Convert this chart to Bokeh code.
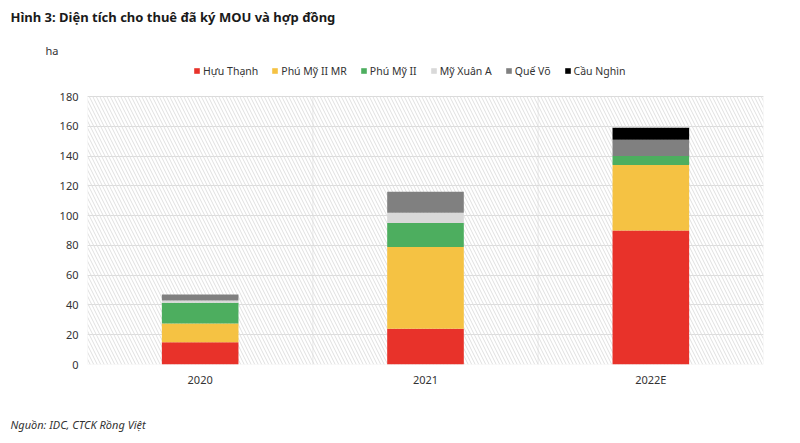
from bokeh.plotting import figure
from bokeh.models import (ColumnDataSource, Legend, LegendItem, BoxAnnotation, FixedTicker,
                          Range1d, Title)
from bokeh.embed import file_html
from bokeh.resources import INLINE

years = ["2020", "2021", "2022E"]
series = ["Hựu Thạnh", "Phú Mỹ II MR", "Phú Mỹ II", "Mỹ Xuân A", "Quế Võ", "Cầu Nghìn"]
huu_thanh = [15, 24, 90]
phu_my_ii_mr = [12.5, 55, 44]
phu_my_ii = [14, 16, 6]
my_xuan_a = [1.5, 7, 0]
que_vo = [4, 14, 11]
cau_nghin = [0, 0, 8]
colors = ["#E8322A", "#F5C243", "#4DAE5F", "#D9D9D9", "#808080", "#000000"]
y_ticks = [0, 20, 40, 60, 80, 100, 120, 140, 160, 180]
y_max = 180

FONT = "Noto Sans"
W, H = 800, 443
# page layout (pixels)
PLOT_LEFT, PLOT_RIGHT = 87, 763
PLOT_TOP, PLOT_BOTTOM = 96, 364      # where 180 and 0 sit
FRAME_TOP = 62                       # frame extended up to hold the legend

data = {"x": list(range(len(years)))}
keys = ["s0", "s1", "s2", "s3", "s4", "s5"]
for k, vals in zip(keys, [huu_thanh, phu_my_ii_mr, phu_my_ii, my_xuan_a, que_vo, cau_nghin]):
    data[k] = vals
source = ColumnDataSource(data)

y_end = y_max * (PLOT_BOTTOM - FRAME_TOP) / (PLOT_BOTTOM - PLOT_TOP)

p = figure(width=W, height=H, output_backend="svg", toolbar_location=None, title=None,
           x_range=Range1d(-0.5, len(years) - 0.5), y_range=Range1d(0, y_end),
           min_border_left=PLOT_LEFT, min_border_right=W - PLOT_RIGHT,
           min_border_top=FRAME_TOP, min_border_bottom=H - PLOT_BOTTOM)
p.background_fill_color = "white"
p.border_fill_color = "white"
p.outline_line_color = None

# hatched plot background limited to the value area
p.add_layout(BoxAnnotation(top=y_max, bottom=0, fill_alpha=0, hatch_pattern="\\",
                           hatch_color="#e0e0e0", hatch_scale=7, hatch_weight=1,
                           line_alpha=0, level="underlay"))
# category cells (give the vertical separators and the outline)
for i in data["x"]:
    p.add_layout(BoxAnnotation(left=i - 0.5, right=i + 0.5, top=y_max, bottom=0,
                               fill_alpha=0, line_color="#dcdcdc", line_width=1,
                               level="underlay"))

renderers = p.vbar_stack(keys, x="x", width=0.34, color=colors, source=source, line_width=0)

p.xaxis.ticker = FixedTicker(ticks=data["x"])
p.xaxis.major_label_overrides = {i: y for i, y in enumerate(years)}
p.yaxis.ticker = FixedTicker(ticks=y_ticks)
for ax in (p.xaxis[0], p.yaxis[0]):
    ax.axis_line_color = None
    ax.major_tick_line_color = None
    ax.minor_tick_line_color = None
    ax.major_tick_out = 0
    ax.major_tick_in = 0
    ax.minor_tick_out = 0
    ax.major_label_text_font = FONT
    ax.major_label_text_font_size = "11px"
    ax.major_label_text_color = "#333333"
p.xaxis.major_label_standoff = 7
p.yaxis.major_label_standoff = 9
# blank axis label used as spacer before the source note
p.xaxis.axis_label = " "
p.xaxis.axis_label_standoff = 7
p.xaxis.axis_label_text_font = FONT
p.xaxis.axis_label_text_font_size = "11px"

p.ygrid.grid_line_color = "#dcdcdc"
p.ygrid.ticker = FixedTicker(ticks=y_ticks)
p.xgrid.grid_line_color = None

items = [LegendItem(label=s, renderers=[r]) for s, r in zip(series, renderers)]
legend = Legend(items=items, orientation="horizontal", location=(193 - PLOT_LEFT, PLOT_BOTTOM - 78),
                glyph_width=7, glyph_height=7, label_standoff=3, spacing=13, padding=0, margin=0,
                label_text_font=FONT, label_text_font_size="10.5px", label_text_color="#333333",
                border_line_color=None, background_fill_alpha=0, label_height=15)
p.add_layout(legend)

p.add_layout(Title(text="ha", align="left", offset=45 - PLOT_LEFT, standoff=10,
                   text_font=FONT, text_font_size="11px", text_font_style="normal",
                   text_color="#333333"), "above")
p.add_layout(Title(text="Hình 3: Diện tích cho thuê đã ký MOU và hợp đồng", align="left",
                   vertical_align="top", offset=10 - PLOT_LEFT, standoff=15,
                   text_font=FONT, text_font_size="13px", text_font_style="bold",
                   text_color="#1a1a1a"), "above")
p.add_layout(Title(text="Nguồn: IDC, CTCK Rồng Việt", align="left", offset=10 - PLOT_LEFT,
                   standoff=0, text_font=FONT, text_font_size="11px", text_font_style="italic",
                   text_color="#333333"), "below")

open("out.html", "w").write(file_html(p, INLINE))
